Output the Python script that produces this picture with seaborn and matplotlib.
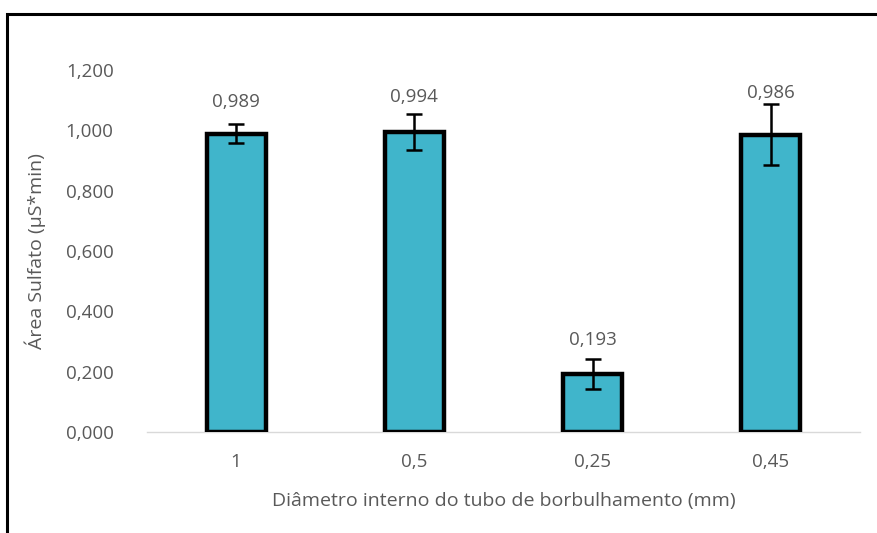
import matplotlib
matplotlib.use("Agg")
import matplotlib.pyplot as plt
from matplotlib.ticker import FuncFormatter
from matplotlib.patches import Rectangle
import seaborn as sns
import pandas as pd

# Data
diametros = ["1", "0,5", "0,25", "0,45"]
area_sulfato = [0.989, 0.994, 0.193, 0.986]
desvio = [0.032, 0.060, 0.050, 0.100]
y_ticks = [0.0, 0.2, 0.4, 0.6, 0.8, 1.0, 1.2]

sns.set_theme(style="white")
plt.rcParams["font.family"] = ["Open Sans", "DejaVu Sans"]

df = pd.DataFrame({"diametro": diametros, "area": area_sulfato})

fig = plt.figure(figsize=(8.77, 5.33), dpi=100)
ax = fig.add_axes([147 / 877, 1 - 432 / 533, 713 / 877, 362 / 533])

sns.barplot(data=df, x="diametro", y="area", order=diametros, color="#40b5cb",
            saturation=1, width=0.33, edgecolor="black", linewidth=3.2,
            errorbar=None, ax=ax)

ax.errorbar(range(len(diametros)), area_sulfato, yerr=desvio, fmt="none",
            ecolor="black", elinewidth=1.8, capsize=5.5, capthick=1.8, zorder=5)

text_color = "#595959"
for i, (v, e) in enumerate(zip(area_sulfato, desvio)):
    ax.annotate(f"{v:.3f}".replace(".", ","), xy=(i, v + e / 2), xytext=(0, 19),
                textcoords="offset points", ha="center", va="center",
                fontsize=13.5, color=text_color)

ax.set_xlim(-0.5, 3.5)
ax.set_ylim(0, 1.2)
ax.set_yticks(y_ticks)
ax.yaxis.set_major_formatter(FuncFormatter(lambda v, _: f"{v:.3f}".replace(".", ",")))
ax.tick_params(axis="both", length=0, labelsize=13.5, labelcolor=text_color)
ax.tick_params(axis="y", pad=24)
ax.tick_params(axis="x", pad=15)

for side in ["top", "right", "left"]:
    ax.spines[side].set_visible(False)
ax.spines["bottom"].set_color("#d9d9d9")
ax.spines["bottom"].set_linewidth(1.0)
ax.spines["bottom"].set_zorder(0)

ax.set_xlabel("Diâmetro interno do tubo de borbulhamento (mm)", fontsize=14,
              color=text_color, labelpad=15)
ax.set_ylabel("Área Sulfato (µS*min)", fontsize=14, color=text_color, labelpad=14)

# Outer frame around the chart area
fig.patches.append(Rectangle((6.5 / 877, -0.1), 1.2, 1 - 14.5 / 533 + 0.1,
                             transform=fig.transFigure, fill=False,
                             edgecolor="black", linewidth=2.2))

fig.savefig("out.png", dpi=100, facecolor="white")
